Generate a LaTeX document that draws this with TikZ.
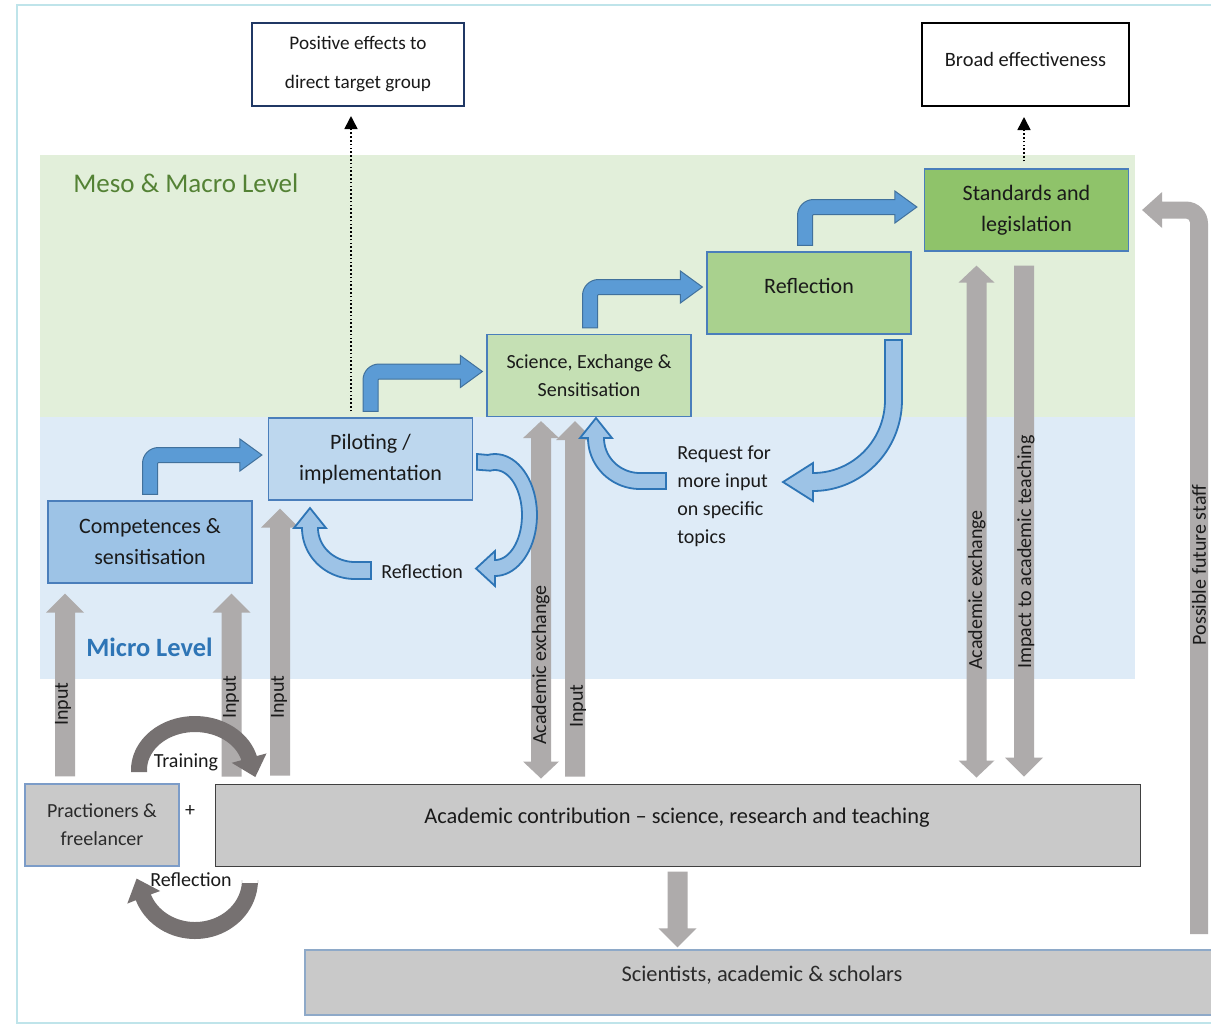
\documentclass[tikz,border=0pt]{standalone}
\usepackage{fontspec}
\setmainfont{Carlito}
\usetikzlibrary{calc,arrows.meta}
\definecolor{mesobg}{HTML}{E2EFDA}
\definecolor{microbg}{HTML}{DEEBF7}
\definecolor{framec}{HTML}{BFE4EA}
\definecolor{bordb}{HTML}{4A7EBB}
\definecolor{compf}{HTML}{9DC3E6}
\definecolor{pilotf}{HTML}{BDD7EE}
\definecolor{scif}{HTML}{C5E0B4}
\definecolor{reflf}{HTML}{A9D18E}
\definecolor{stdf}{HTML}{8FC36A}
\definecolor{grayf}{HTML}{C9C9C9}
\definecolor{pracb}{HTML}{7C9CC8}
\definecolor{schb}{HTML}{8EA9C8}
\definecolor{arrg}{HTML}{AEABAB}
\definecolor{arrdk}{HTML}{767171}
\definecolor{stepf}{HTML}{5B9BD5}
\definecolor{stepb}{HTML}{41719C}
\definecolor{curvf}{HTML}{9DC3E6}
\definecolor{curvb}{HTML}{2E75B6}
\definecolor{mesot}{HTML}{548235}
\definecolor{microt}{HTML}{2E75B6}
\definecolor{navy}{HTML}{203864}
\definecolor{txt}{HTML}{1A1A1A}
\definecolor{txtg}{HTML}{2B2B2B}

% gray straight arrow: tail, tip (vertical)
\newcommand\garrow[2]{%
  \fill[grayarr] let \p1=#1, \p2=#2, \p3=($(\p2)!9.5pt!(\p1)$) in
   (\x1-5pt,\y1) -- (\x1-5pt,\y3) -- (\x1-9.5pt,\y3) -- (\x1,\y2)
   -- (\x1+9.5pt,\y3) -- (\x1+5pt,\y3) -- (\x1+5pt,\y1) -- cycle;}
% gray double arrow: tip A, tip B (vertical)
\newcommand\gdarrow[2]{%
  \fill[grayarr] let \p1=#1, \p2=#2, \p3=($(\p2)!8.5pt!(\p1)$), \p4=($(\p1)!8.5pt!(\p2)$) in
   (\x1,\y1) -- (\x1-9pt,\y4) -- (\x1-5pt,\y4) -- (\x1-5pt,\y3) -- (\x1-9pt,\y3) -- (\x1,\y2)
   -- (\x1+9pt,\y3) -- (\x1+5pt,\y3) -- (\x1+5pt,\y4) -- (\x1+9pt,\y4) -- cycle;}
% blue bent arrow: up, then right
\newcommand\barrow[2]{%
  \filldraw[steparr] let \p1=#1, \p2=#2 in
   (\x1-3.75pt,\y1) -- (\x1-3.75pt,\y2-4.25pt)
   arc[start angle=180,end angle=90,radius=8pt]
   -- (\x2-11pt,\y2+3.75pt) -- (\x2-11pt,\y2+8pt) -- (\x2,\y2) -- (\x2-11pt,\y2-8pt)
   -- (\x2-11pt,\y2-3.75pt) -- (\x1+4.25pt,\y2-3.75pt)
   arc[start angle=90,end angle=180,radius=0.5pt]
   -- (\x1+3.75pt,\y1) -- cycle;}

\begin{document}
\begin{tikzpicture}[x=0.5pt,y=-0.5pt,
  box/.style={draw=bordb, line width=0.6pt, minimum width=102pt, minimum height=41pt,
    inner sep=0pt, align=center, text=txt, font=\fontsize{11}{15.5}\selectfont},
  grayarr/.style={fill=arrg},
  darkarr/.style={fill=arrdk},
  steparr/.style={fill=stepf, draw=stepb, line width=0.5pt},
  curvarr/.style={fill=curvf, draw=curvb, line width=0.9pt, line join=miter},
  dotarr/.style={line width=0.8pt, dash pattern=on 0.8pt off 1.1pt,
    -{Triangle[width=6.5pt,length=6.5pt]}},
  lbl/.style={text=txt, inner sep=0pt, font=\fontsize{10}{14}\selectfont},
  vlbl/.style={lbl, rotate=90}]
\clip (0,0) rectangle (1211,1025);
\fill[white] (0,0) rectangle (1211,1025);

% level bands
\fill[mesobg] (40,155) rectangle (1135,417);
\fill[microbg] (40,417) rectangle (1135,679);
\draw[framec, line width=1pt] (1215,5) -- (17,5) -- (17,1023) -- (1215,1023);

\node[anchor=west, text=mesot, inner sep=0pt, font=\fontsize{13.5}{16}\selectfont] (meso) at (73,183) {Meso \& Macro Level};
\node[anchor=west, text=microt, inner sep=0pt, font=\fontsize{13.2}{16}\selectfont\bfseries] (micro) at (86,647) {Micro Level};

% boxes
\node[box, fill=compf] (comp) at (150,542) {Competences \&\\sensitisation};
\node[box, fill=pilotf] (pilot) at (370.5,459) {Piloting /\\implementation};
\node[box, fill=scif, font=\fontsize{10}{14}\selectfont] (sci) at (589,375.5) {Science, Exchange \&\\Sensitisation};
\node[box, fill=reflf] (refl) at (809,293) {};
\node[lbl, font=\fontsize{11}{15.5}\selectfont] (reflt) at (809,286) {Reflection};
\node[box, fill=stdf] (std) at (1026.5,210) {Standards and\\legislation};

\node[draw=navy, line width=1pt, minimum width=106pt, minimum height=41.5pt, inner sep=0pt,
  align=center, text=txt, font=\fontsize{9.6}{19.5}\selectfont] (pos) at (358,64.5) {Positive effects to\\direct target group};
\node[draw=black, line width=1pt, minimum width=103.5pt, minimum height=41.5pt, inner sep=0pt] (broad) at (1025.5,64.5) {};
\node[lbl, font=\fontsize{10.2}{12}\selectfont] (broadt) at (1025.5,59) {Broad effectiveness};

\node[draw=pracb, fill=grayf, line width=0.6pt, minimum width=77pt, minimum height=41pt, inner sep=0pt,
  align=center, text=txtg, font=\fontsize{10}{14}\selectfont] (prac) at (102,825) {Practioners \&\\freelancer};
\node[draw=black!75, fill=grayf, line width=0.5pt, minimum width=462.5pt, minimum height=41pt] (acad) at (677.5,825) {};
\node[lbl, font=\fontsize{11.2}{13}\selectfont] (acadt) at (677,818) {Academic contribution -- science, research and teaching};
\node[draw=schb, fill=grayf, line width=0.6pt, minimum width=455pt, minimum height=32.5pt] (sch) at (760,982.5) {};
\node[lbl, text=txtg, font=\fontsize{11.2}{13}\selectfont] (scht) at (762,975) {Scientists, academic \& scholars};
\node[lbl] (plus) at (190,811) {+};

% dotted arrows
\coordinate (d1) at ($(pilot.north)+(-19.5,-6)$);
\draw[dotarr] (d1) -- ($(d1 |- pos.south)+(0,9)$);
\coordinate (d2) at ($(std.north)+(-2.5,-7)$);
\draw[dotarr] (d2) -- ($(d2 |- broad.south)+(0,10)$);

% blue step arrows
\barrow{($(comp.north)+(0,-6)$)}{($(pilot.west)+(-6,-4)$)}
\barrow{($(pilot.north)+(0,-6)$)}{($(sci.west)+(-4,-4)$)}
\barrow{($(sci.north)+(1,-6)$)}{($(refl.west)+(-4,-6)$)}
\barrow{($(refl.north)+(-4,-6)$)}{($(std.west)+(-7,-3)$)}

% gray arrows
\garrow{($(prac.north)+(-37,-7)$)}{($(comp.south)+(-85,10)$)}
\garrow{($(acad.north west)+(17,-7)$)}{($(comp.south)+(82,10)$)}
\garrow{($(acad.north west)+(65.5,-8)$)}{($(pilot.south)+(-90,8)$)}
\gdarrow{($(acad.north west)+(326.5,-5)$)}{($(sci.south)+(-47.5,4)$)}
\garrow{($(acad.north west)+(360.5,-7)$)}{($(sci.south)+(-13.5,4)$)}
\gdarrow{($(acad.north east)+(-164,-6)$)}{($(std.south)+(-50.5,14)$)}
\garrow{($(std.south)+(-2.5,14)$)}{($(acad.north east)+(-116,-7)$)}
\garrow{($(acad.south)+(0,5)$)}{($(sch.north)+(-83,-2)$)}
\coordinate (pfs) at (1199,934);
\fill[grayarr] let \p1=(pfs), \p2=($(std.east)+(13,0)$) in
   (\x1+4.5pt,\y1) -- (\x1+4.5pt,\y2-6.75pt)
   arc[start angle=0,end angle=90,radius=11pt]
   -- (\x2+10pt,\y2+4.25pt) -- (\x2+10pt,\y2+9pt) -- (\x2,\y2) -- (\x2+10pt,\y2-9pt)
   -- (\x2+10pt,\y2-4.25pt) -- (\x1-6.5pt,\y2-4.25pt)
   arc[start angle=90,end angle=0,radius=2pt]
   -- (\x1-4.5pt,\y1) -- cycle;

% light blue curved arrows
\filldraw[curvarr] (477,469.7) -- (477,454)
  -- plot[domain=-100:90, samples=40, variable=\t] ({495+42*cos(\t)},{515+61*sin(\t)})
  -- (495,586) -- (476,568.5) -- (495,551)
  -- plot[domain=90:-100, samples=40, variable=\t] ({495+27*cos(\t)},{515+45*sin(\t)}) -- cycle;
\filldraw[curvarr] (885,340) -- (902,340) -- (902,400)
  -- plot[domain=0:90, samples=40, variable=\t] ({813+89*cos(\t)},{400+91*sin(\t)})
  -- (813,501) -- (783,482) -- (813,463) -- (813,473)
  -- plot[domain=90:0, samples=40, variable=\t] ({813+72*cos(\t)},{400+73*sin(\t)}) -- cycle;
\filldraw[curvarr] (371,562) -- (371,579) -- (355,579)
  -- plot[domain=90:180, samples=30, variable=\t] ({355+53*cos(\t)},{528+51*sin(\t)})
  -- (294,528) -- (310,508) -- (326,528) -- (318,528)
  -- plot[domain=180:90, samples=30, variable=\t] ({355+37*cos(\t)},{528+34*sin(\t)}) -- cycle;
\filldraw[curvarr] (666,473) -- (666,489) -- (640,489)
  -- plot[domain=90:180, samples=30, variable=\t] ({640+52*cos(\t)},{438+51*sin(\t)})
  -- (580,438) -- (596,418) -- (612,438) -- (604,438)
  -- plot[domain=180:90, samples=30, variable=\t] ({640+36*cos(\t)},{438+35*sin(\t)}) -- cycle;

% dark gray circular arrows
\fill[darkarr] (131,772) -- plot[domain=180:345, samples=40, variable=\t] ({195+64*cos(\t)},{770+54*sin(\t)})
  -- (266.5,753.4) -- (255.3,777) -- (231.7,762.8)
  -- plot[domain=345:180, samples=40, variable=\t] ({195+48*cos(\t)},{770+38*sin(\t)}) -- (147,772) -- cycle;
\fill[darkarr] (258,883) -- plot[domain=0:160, samples=40, variable=\t] ({195+63*cos(\t)},{880+59*sin(\t)})
  -- (127.3,903.6) -- (136.6,878.6) -- (160.2,891)
  -- plot[domain=160:0, samples=40, variable=\t] ({195+47*cos(\t)},{880+42*sin(\t)}) -- (242,883) -- cycle;

% labels
\node[vlbl] (in1) at (63,704) {Input};
\node[vlbl] (in2) at (231,697) {Input};
\node[vlbl] (in3) at (279,697) {Input};
\node[vlbl] (ax1) at (541,665) {Academic exchange};
\node[vlbl] (in4) at (578,706) {Input};
\node[vlbl] (ax2) at (977,590) {Academic exchange};
\node[vlbl] (imp) at (1026,552) {Impact to academic teaching};
\node[vlbl] (pfst) at (1199,565) {Possible future staff};
\node[lbl, anchor=west] (reflb) at (381,572) {Reflection};
\node[lbl, anchor=north west, align=left] (req) at (677,445) {Request for\\more input\\on specific\\topics};
\node[lbl] (train) at (186,762) {Training};
\node[lbl] (reflc) at (191,880) {Reflection};
\end{tikzpicture}
\end{document}
